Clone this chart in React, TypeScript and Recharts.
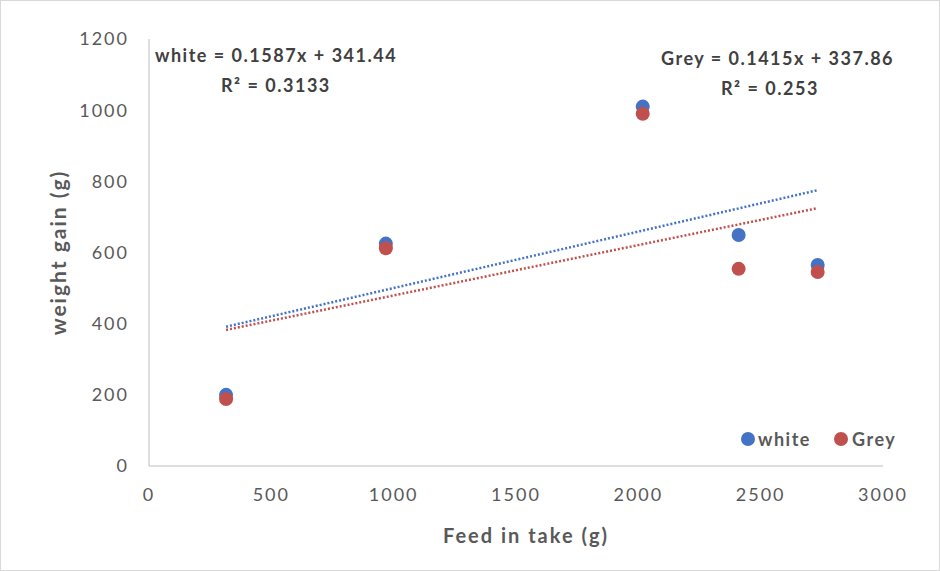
import { ScatterChart, Scatter, XAxis, YAxis, ReferenceLine } from "recharts"

// feed intake (g) per group
const feedIntake = [315, 968, 2018, 2410, 2733]
const whiteGain = [200, 625, 1010, 649, 565]
const greyGain = [188, 612, 990, 554, 545]

const xTicks = [0, 500, 1000, 1500, 2000, 2500, 3000]
const yTicks = [0, 200, 400, 600, 800, 1000, 1200]

// linear trendlines as printed on the chart
const whiteFit = { slope: 0.1587, intercept: 341.44, r2: "0.3133" }
const greyFit = { slope: 0.1415, intercept: 337.86, r2: "0.253" }

const whiteData = feedIntake.map((x, i) => ({ x, y: whiteGain[i] }))
const greyData = feedIntake.map((x, i) => ({ x, y: greyGain[i] }))

const BLUE = "#4472C4"
const RED = "#C0504D"
const TEXT = "#595959"
const FONT = "Lato, 'Open Sans', sans-serif"

const xMin = Math.min(...feedIntake)
const xMax = Math.max(...feedIntake)
const fitSegment = (f: { slope: number; intercept: number }) => [
  { x: xMin, y: f.slope * xMin + f.intercept },
  { x: xMax, y: f.slope * xMax + f.intercept },
]

const dot = (color: string) => (props: any) => (
  <circle cx={props.cx} cy={props.cy} r={7} fill={color} />
)

const tickStyle = { fill: TEXT, fontSize: 18, fontFamily: FONT, letterSpacing: 2 }
const titleStyle = { fill: TEXT, fontSize: 20, fontWeight: 700, fontFamily: FONT, letterSpacing: 2 }

export default function App() {
  const eqStyle: React.CSSProperties = {
    position: "absolute",
    fontFamily: FONT,
    fontSize: 18,
    fontWeight: 700,
    letterSpacing: 1.5,
    color: "#404040",
    whiteSpace: "nowrap",
  }
  const legendText: React.CSSProperties = {
    position: "absolute",
    top: 427,
    fontFamily: FONT,
    fontSize: 18,
    fontWeight: 700,
    letterSpacing: 1.5,
    color: TEXT,
  }
  const legendDot = (left: number, color: string): React.CSSProperties => ({
    position: "absolute",
    left,
    top: 431,
    width: 14,
    height: 14,
    borderRadius: 7,
    background: color,
  })

  return (
    <div
      style={{
        position: "absolute",
        left: 0,
        top: 0,
        width: 938,
        height: 569,
        border: "1px solid #d9d9d9",
        background: "#fff",
        fontFamily: FONT,
      }}
    >
      <ScatterChart width={940} height={571} margin={{ top: 38, right: 58, bottom: 76, left: 88 }}>
        <XAxis
          type="number"
          dataKey="x"
          domain={[0, 3000]}
          ticks={xTicks}
          tickLine={false}
          tickSize={0}
          tickMargin={22}
          height={30}
          stroke="#bfbfbf"
          tick={tickStyle}
          label={{ value: "Feed in take (g)", position: "bottom", offset: 33, dx: 10, ...titleStyle }}
        />
        <YAxis
          type="number"
          dataKey="y"
          domain={[0, 1200]}
          ticks={yTicks}
          tickLine={false}
          tickSize={0}
          tickMargin={20}
          width={60}
          stroke="#bfbfbf"
          tick={tickStyle}
          label={{
            value: "weight gain (g)",
            angle: -90,
            position: "left",
            offset: 30,
            ...titleStyle,
            fontSize: 21,
            style: { textAnchor: "middle" },
          }}
        />
        <ReferenceLine
          segment={fitSegment(whiteFit)}
          stroke={BLUE}
          strokeWidth={2.5}
          strokeDasharray="2 2"
          ifOverflow="extendDomain"
        />
        <ReferenceLine
          segment={fitSegment(greyFit)}
          stroke={RED}
          strokeWidth={2.5}
          strokeDasharray="2 2"
          ifOverflow="extendDomain"
        />
        <Scatter name="white" data={whiteData} fill={BLUE} shape={dot(BLUE)} isAnimationActive={false} />
        <Scatter name="Grey" data={greyData} fill={RED} shape={dot(RED)} isAnimationActive={false} />
      </ScatterChart>
      <div style={{ ...eqStyle, left: 154, top: 43 }}>white = {whiteFit.slope}x + {whiteFit.intercept}</div>
      <div style={{ ...eqStyle, left: 220, top: 73 }}>R² = {whiteFit.r2}</div>
      <div style={{ ...eqStyle, left: 660, top: 46 }}>Grey = {greyFit.slope}x + {greyFit.intercept}</div>
      <div style={{ ...eqStyle, left: 720, top: 76 }}>R² = {greyFit.r2}</div>
      <div style={legendDot(740, BLUE)} />
      <div style={{ ...legendText, left: 757 }}>white</div>
      <div style={legendDot(833, RED)} />
      <div style={{ ...legendText, left: 851 }}>Grey</div>
    </div>
  )
}
